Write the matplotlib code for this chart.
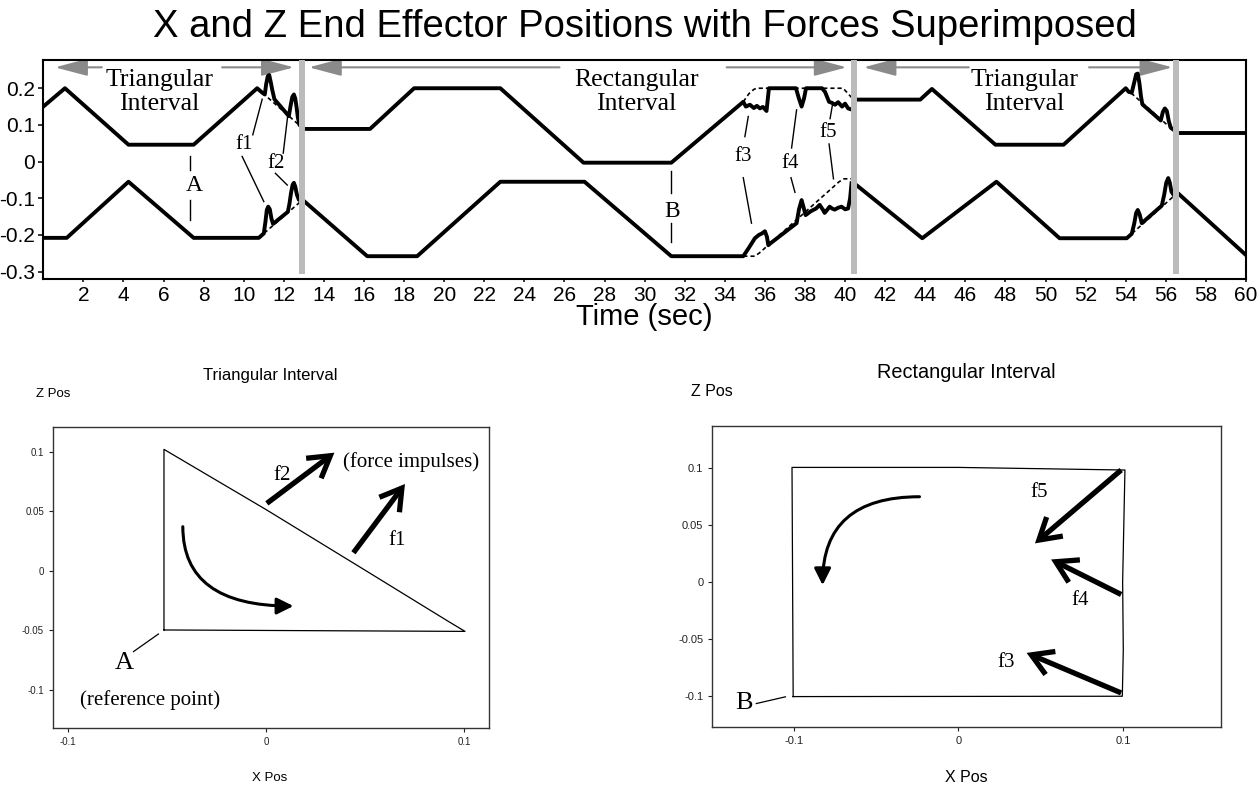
import numpy as np
import matplotlib
matplotlib.use("Agg")
import matplotlib.pyplot as plt
from matplotlib.patches import FancyArrowPatch

plt.rcParams["axes.unicode_minus"] = False
SANS = ["Liberation Sans", "DejaVu Sans"]
SERIF = ["Liberation Serif", "DejaVu Serif"]

# ---------------------------------------------------------------- data
# Top panel: measured end effector positions (solid) per interval
upper1_t = [0, 1.08, 4.25, 7.5, 10.67, 10.92, 11.05, 11.12, 11.2, 11.27, 11.35, 11.42, 11.53,
            12.25, 12.33, 12.42, 12.5, 12.57, 12.63, 12.7, 12.78, 12.88]
upper1_v = [0.15, 0.2, 0.046, 0.046, 0.2, 0.188, 0.183, 0.212, 0.233, 0.236, 0.216, 0.196, 0.17,
            0.124, 0.15, 0.176, 0.183, 0.172, 0.15, 0.12, 0.1, 0.095]
lower1_t = [0, 1.17, 4.25, 7.5, 10.75, 11.0, 11.08, 11.15, 11.22, 11.3, 11.38, 11.46,
            12.2, 12.28, 12.36, 12.44, 12.5, 12.57, 12.65, 12.75, 12.88]
lower1_v = [-0.208, -0.208, -0.055, -0.208, -0.208, -0.196, -0.165, -0.132, -0.123, -0.13, -0.155, -0.17,
            -0.137, -0.115, -0.085, -0.063, -0.058, -0.068, -0.09, -0.104, -0.107]

upper2_t = [12.95, 16.3, 18.5, 22.8, 26.95, 31.33, 34.92, 35.05, 35.25, 35.45, 35.6, 35.75, 35.9, 36.08,
            36.2, 37.55, 37.68, 37.83, 37.95, 38.05, 38.85, 39.0, 39.2, 39.35, 39.5, 39.65, 39.85,
            40.0, 40.15, 40.32]
upper2_v = [0.089, 0.089, 0.2, 0.2, -0.003, -0.003, 0.163, 0.15, 0.155, 0.146, 0.152, 0.145, 0.149, 0.138,
            0.2, 0.2, 0.175, 0.15, 0.172, 0.2, 0.2, 0.19, 0.163, 0.16, 0.155, 0.162, 0.15,
            0.158, 0.145, 0.142]
lower2_t = [12.95, 16.16, 18.65, 22.8, 27.0, 31.33, 34.92, 35.2, 35.5, 35.7, 35.85, 36.0, 36.1, 36.17,
            36.25, 37.58, 37.7, 37.83, 37.93, 38.03, 38.3, 38.55, 38.73, 38.9, 38.98, 39.1, 39.23,
            39.35, 39.48, 39.65, 39.82, 40.0, 40.15, 40.25, 40.32]
lower2_v = [-0.105, -0.258, -0.258, -0.055, -0.055, -0.258, -0.258, -0.235, -0.209, -0.2, -0.196, -0.19,
            -0.205, -0.228, -0.224, -0.168, -0.13, -0.105, -0.125, -0.146, -0.135, -0.128, -0.118,
            -0.132, -0.14, -0.132, -0.123, -0.128, -0.131, -0.126, -0.123, -0.13, -0.128, -0.1, -0.059]

upper3_t = [40.45, 43.75, 44.33, 47.5, 50.9, 54.0, 54.15, 54.3, 54.42, 54.52, 54.6, 54.68, 54.76, 54.83,
            55.75, 55.85, 55.95, 56.05, 56.15, 56.25, 56.38]
upper3_v = [0.169, 0.169, 0.198, 0.046, 0.046, 0.2, 0.19, 0.188, 0.215, 0.238, 0.24, 0.215, 0.178, 0.156,
            0.112, 0.135, 0.145, 0.138, 0.11, 0.092, 0.087]
lower3_t = [40.45, 43.85, 47.55, 50.7, 54.05, 54.3, 54.42, 54.52, 54.6, 54.7, 54.8, 55.8, 55.92, 56.02,
            56.12, 56.2, 56.28, 56.38]
lower3_v = [-0.059, -0.209, -0.055, -0.209, -0.209, -0.197, -0.17, -0.14, -0.132, -0.145, -0.168, -0.12,
            -0.09, -0.058, -0.045, -0.058, -0.082, -0.09]

upper4_t = [56.6, 60.0]
upper4_v = [0.078, 0.078]
lower4_t = [56.6, 60.0]
lower4_v = [-0.086, -0.255]

# Reference (unperturbed) trajectories, dashed
ref_upper1_t = [10.67, 12.88]
ref_upper1_v = [0.2, 0.094]
ref_lower1_t = [10.75, 12.88]
ref_lower1_v = [-0.208, -0.107]
ref_upper2_t = [34.92, 35.2, 35.45, 35.6, 39.9, 40.32]
ref_upper2_v = [0.163, 0.185, 0.197, 0.2, 0.2, 0.175]
ref_lower2_t = [34.92, 35.5, 35.75, 39.7, 39.95, 40.32]
ref_lower2_v = [-0.258, -0.258, -0.248, -0.055, -0.047, -0.047]
ref_upper3_t = [54.0, 56.38]
ref_upper3_v = [0.2, 0.085]
ref_lower3_t = [54.05, 56.38]
ref_lower3_v = [-0.209, -0.095]

boundary_t = [12.92, 40.42, 56.5]

x_ticks = list(range(2, 61, 2))
x_ticklabels = [str(v) for v in x_ticks]
y_ticks = [0.2, 0.1, 0.0, -0.1, -0.2, -0.3]
y_ticklabels = ["0.2", "0.1", "0", "-0.1", "-0.2", "-0.3"]

interval_names = ["Triangular\nInterval", "Rectangular\nInterval", "Triangular\nInterval"]
interval_label_t = [5.78, 29.6, 48.95]
# (left tip, left gap, right gap, right tip) of the gray interval arrows
interval_arrows = [(0.585, 2.92, 8.92, 12.5), (13.25, 25.75, 34.09, 40.08), (40.92, 46.17, 52.17, 56.33)]

# Bottom panels: X-Z trajectories
tri_x = [-0.0514, 0.1005, 0.092, 0.05, 0.0, -0.0514, -0.0514]
tri_z = [-0.0498, -0.051, -0.0425, 0.0005, 0.0515, 0.102, -0.0498]
rect_x = [-0.1005, 0.0996, 0.1002, 0.0998, 0.1012, 0.0, -0.1012, -0.1005]
rect_z = [-0.1006, -0.1003, -0.06, 0.0, 0.098, 0.1003, 0.1003, -0.1006]

xz_ticks_x = [-0.1, 0.0, 0.1]
xz_ticklabels_x = ["-0.1", "0", "0.1"]
xz_ticks_z = [-0.1, -0.05, 0.0, 0.05, 0.1]
xz_ticklabels_z = ["-0.1", "-0.05", "0", "0.05", "0.1"]

# ---------------------------------------------------------------- figure
W, H = 1260, 786
fig = plt.figure(figsize=(W / 100, H / 100), dpi=100)


def fx(px):
    return px / W


def fy(py):
    return 1 - py / H


ax = fig.add_axes([fx(43.3), fy(279.3), (1246 - 43.3) / W, (279.3 - 60) / H])
ax.set_xlim(0, 60)
ax.set_ylim(-0.321, 0.277)

solid = [(upper1_t, upper1_v), (lower1_t, lower1_v), (upper2_t, upper2_v), (lower2_t, lower2_v),
         (upper3_t, upper3_v), (lower3_t, lower3_v), (upper4_t, upper4_v), (lower4_t, lower4_v)]
refs = [(ref_upper1_t, ref_upper1_v), (ref_lower1_t, ref_lower1_v), (ref_upper2_t, ref_upper2_v),
        (ref_lower2_t, ref_lower2_v), (ref_upper3_t, ref_upper3_v), (ref_lower3_t, ref_lower3_v)]
for t, v in refs:
    ax.plot(t, v, color="black", lw=1.2, ls=(0, (2.5, 1.8)), zorder=3)
for t, v in solid:
    ax.plot(t, v, color="black", lw=2.8, solid_joinstyle="round", zorder=4)

ax.vlines(boundary_t, -0.307, 0.277, colors="#bbbbbb", lw=4.3, zorder=5)

y_arrow = 0.257
for (tl, gl, gr, tr) in interval_arrows:
    for a, b in [(gl, tl), (gr, tr)]:
        ax.add_patch(FancyArrowPatch((a, y_arrow), (b, y_arrow),
                                     arrowstyle="-|>,head_length=20,head_width=5.3",
                                     mutation_scale=1, lw=1.5, color="#8a8a8a",
                                     shrinkA=0, shrinkB=0, zorder=2))
for name, tc in zip(interval_names, interval_label_t):
    ax.text(tc, 0.19, name, ha="center", va="center", fontsize=18.5, family=SERIF,
            linespacing=1.1, zorder=6)

# point labels and force labels with leader lines
labels = [("A", 7.55, -0.064, 17), ("B", 31.36, -0.135, 17),
          ("f1", 10.0, 0.046, 15), ("f2", 11.63, -0.005, 15), ("f3", 34.92, 0.014, 15),
          ("f4", 37.25, -0.004, 15), ("f5", 39.17, 0.08, 15)]
for s, t, v, fs in labels:
    ax.text(t, v, s, ha="center", va="center", fontsize=fs, family=SERIF, zorder=6)
leaders = [((7.33, 0.016), (7.33, -0.023)), ((7.33, -0.105), (7.33, -0.159)),
           ((31.33, -0.027), (31.33, -0.086)), ((31.33, -0.168), (31.33, -0.219)),
           ((10.45, 0.073), (10.92, 0.17)), ((9.92, 0.014), (11.0, -0.109)),
           ((11.97, 0.023), (12.2, 0.128)), ((11.58, -0.032), (12.17, -0.064)),
           ((35.0, 0.068), (35.17, 0.123)), ((34.92, -0.044), (35.33, -0.168)),
           ((37.33, 0.037), (37.58, 0.141)), ((37.3, -0.044), (37.5, -0.084)),
           ((39.25, 0.117), (39.37, 0.155)), ((39.2, 0.048), (39.42, -0.047))]
for p, q in leaders:
    ax.plot([p[0], q[0]], [p[1], q[1]], color="black", lw=1.0, zorder=6)

ax.set_xticks(x_ticks)
ax.set_xticklabels(x_ticklabels, family=SANS, fontsize=15)
ax.set_yticks(y_ticks)
ax.set_yticklabels(y_ticklabels, family=SANS, fontsize=15)
ax.tick_params(axis="x", direction="out", length=2.5, width=1.1, pad=2.5)
ax.tick_params(axis="y", direction="out", length=3.6, width=1.1, pad=2.2)
for sp in ax.spines.values():
    sp.set_linewidth(1.5)

fig.text(fx(645), fy(37), "X and Z End Effector Positions with Forces Superimposed",
         ha="center", va="baseline", fontsize=27.5, family=SANS)
fig.text(fx(644), fy(325), "Time (sec)", ha="center", va="baseline", fontsize=21, family=SANS)


# ---------------------------------------------------------------- bottom panels
def style_xz(a, fs):
    a.set_xticks(xz_ticks_x)
    a.set_xticklabels(xz_ticklabels_x, family=SANS, fontsize=fs)
    a.set_yticks(xz_ticks_z)
    a.set_yticklabels(xz_ticklabels_z, family=SANS, fontsize=fs)
    a.tick_params(direction="out", length=3, width=0.8, pad=3.5, colors="#222222")
    for sp in a.spines.values():
        sp.set_linewidth(1.0)
        sp.set_color("#333333")


def thick_arrow(a, tail, head):
    a.add_patch(FancyArrowPatch(tail, head, arrowstyle="->,head_length=15,head_width=9",
                                mutation_scale=1, lw=3.8, color="black",
                                shrinkA=0, shrinkB=0, joinstyle="miter", capstyle="butt", zorder=5))


def curved_arrow(a, tail, head, ang_a, ang_b):
    a.add_patch(FancyArrowPatch(tail, head, arrowstyle="-|>,head_length=10,head_width=5",
                                connectionstyle=f"angle3,angleA={ang_a},angleB={ang_b}",
                                mutation_scale=1, lw=2.2, color="black",
                                shrinkA=0, shrinkB=0, zorder=5))


axL = fig.add_axes([fx(53), fy(728), (489 - 53) / W, (728 - 427) / H])
axL.set_xlim(-0.1074, 0.1126)
axL.set_ylim(-0.1322, 0.1208)
axL.plot(tri_x, tri_z, color="black", lw=0.9)
style_xz(axL, 7)
thick_arrow(axL, (0.0005, 0.0566), (0.0346, 0.0992))
thick_arrow(axL, (0.0442, 0.0151), (0.0702, 0.0729))
curved_arrow(axL, (-0.0419, 0.037), (0.0139, -0.0297), 90, 0)
axL.text(0.008, 0.0804, "f2", ha="center", va="center", fontsize=15, family=SERIF)
axL.text(0.066, 0.0252, "f1", ha="center", va="center", fontsize=15, family=SERIF)
axL.text(0.0733, 0.0916, "(force impulses)", ha="center", va="center", fontsize=15, family=SERIF)
axL.text(-0.0715, -0.0778, "A", ha="center", va="center", fontsize=19, family=SERIF)
axL.plot([-0.0668, -0.0542], [-0.068, -0.0532], color="black", lw=0.9)
axL.text(-0.0584, -0.1087, "(reference point)", ha="center", va="center", fontsize=15, family=SERIF)
fig.text(fx(270), fy(375), "Triangular Interval", ha="center", va="center", fontsize=12, family=SANS)
fig.text(fx(53), fy(394.3), "Z Pos", ha="center", va="center", fontsize=9.5, family=SANS)
fig.text(fx(270), fy(778), "X Pos", ha="center", va="center", fontsize=9.5, family=SANS)

axR = fig.add_axes([fx(712.4), fy(726.7), (1221 - 712.4) / W, (726.7 - 426) / H])
axR.set_xlim(-0.1496, 0.1596)
axR.set_ylim(-0.127, 0.1366)
axR.plot(rect_x, rect_z, color="black", lw=0.9)
style_xz(axR, 8)
thick_arrow(axR, (0.0989, 0.098), (0.0465, 0.0337))
thick_arrow(axR, (0.0989, -0.0111), (0.0563, 0.0196))
thick_arrow(axR, (0.0989, -0.0974), (0.0414, -0.0623))
curved_arrow(axR, (-0.0237, 0.0746), (-0.0826, -0.0029), 0, 90)
axR.text(0.0489, 0.0781, "f5", ha="center", va="center", fontsize=15, family=SERIF)
axR.text(0.0737, -0.016, "f4", ha="center", va="center", fontsize=15, family=SERIF)
axR.text(0.0291, -0.0707, "f3", ha="center", va="center", fontsize=15, family=SERIF)
axR.text(-0.1303, -0.1061, "B", ha="center", va="center", fontsize=19, family=SERIF)
axR.plot([-0.1229, -0.1052], [-0.1067, -0.1008], color="black", lw=0.9)
fig.text(fx(966), fy(372.7), "Rectangular Interval", ha="center", va="center", fontsize=14.3, family=SANS)
fig.text(fx(711.7), fy(391.7), "Z Pos", ha="center", va="center", fontsize=11.5, family=SANS)
fig.text(fx(966), fy(778), "X Pos", ha="center", va="center", fontsize=11.5, family=SANS)

fig.savefig("out.png", dpi=100)
